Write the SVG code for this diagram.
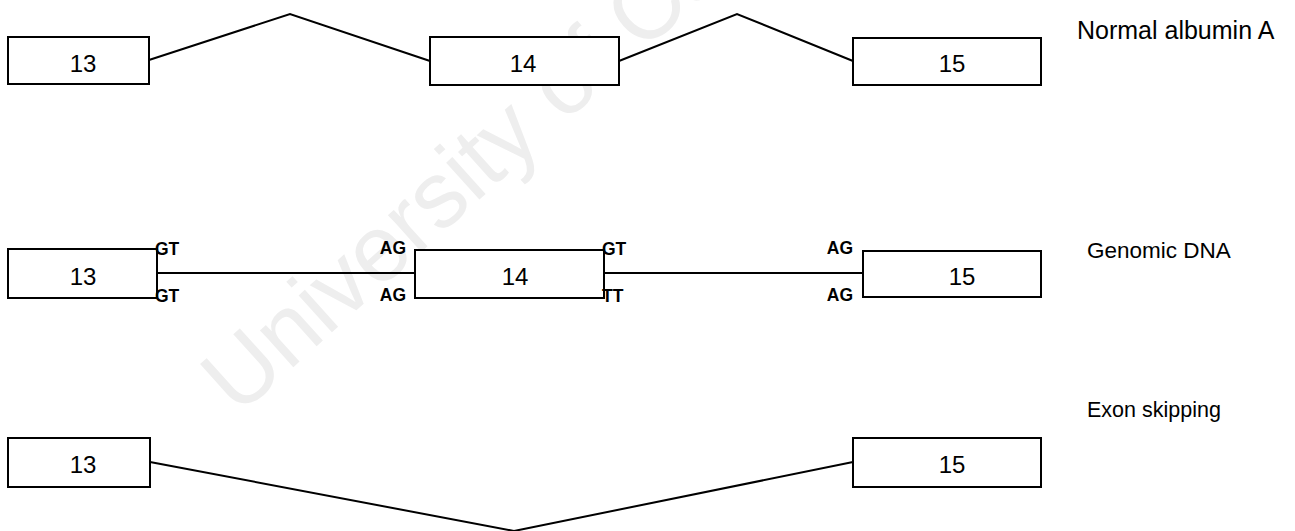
<svg xmlns="http://www.w3.org/2000/svg" width="1295" height="531" viewBox="0 0 1295 531">
<style>
.box{fill:#fff;stroke:#000;stroke-width:2}
.ln{fill:none;stroke:#000;stroke-width:2;stroke-linejoin:miter}
.num{font-family:"Liberation Sans",Arial,sans-serif;font-size:24px;fill:#000;text-anchor:middle}
.lab{font-family:"Liberation Sans",Arial,sans-serif;fill:#000}
.site{font-family:"Liberation Sans",Arial,sans-serif;font-weight:bold;font-size:17.5px;fill:#000}
.wm{font-family:"Liberation Sans",Arial,sans-serif;font-size:94px;fill:#eeeeee}
</style>
<rect width="1295" height="531" fill="#fff"/>
<text class="wm" transform="translate(238,417) rotate(-42)">University of Cape Town</text>

<g id="connectors">
<polyline class="ln" points="149,60 290,14 430,61"/>
<polyline class="ln" points="619,61 737,14 853,61"/>
<line class="ln" x1="157" y1="273" x2="415" y2="273"/>
<line class="ln" x1="604" y1="273" x2="863" y2="273"/>
<polyline class="ln" points="150,462 514,531 853,462"/>
</g>

<g id="row1-exon13"><rect class="box" x="8" y="37" width="141" height="47"/><text class="num" x="83" y="72">13</text></g>
<g id="row1-exon14"><rect class="box" x="430" y="37" width="189" height="48"/><text class="num" x="523" y="72">14</text></g>
<g id="row1-exon15"><rect class="box" x="853" y="38" width="188" height="47"/><text class="num" x="952" y="72">15</text></g>
<g id="label-normal"><text class="lab" x="1077" y="39" font-size="25">Normal albumin A</text></g>

<g id="row2-exon13"><rect class="box" x="8" y="249" width="149" height="49"/><text class="num" x="83" y="285">13</text></g>
<g id="row2-exon14"><rect class="box" x="415" y="250" width="189" height="48"/><text class="num" x="515" y="285">14</text></g>
<g id="row2-exon15"><rect class="box" x="863" y="251" width="178" height="46"/><text class="num" x="962" y="285">15</text></g>
<g id="sites">
<text class="site" x="155" y="255">GT</text>
<text class="site" x="155" y="302">GT</text>
<text class="site" x="406" y="254" text-anchor="end">AG</text>
<text class="site" x="406" y="301" text-anchor="end">AG</text>
<text class="site" x="602" y="255">GT</text>
<text class="site" x="602" y="302">TT</text>
<text class="site" x="853" y="254" text-anchor="end">AG</text>
<text class="site" x="853" y="301" text-anchor="end">AG</text>
</g>
<g id="label-genomic"><text class="lab" x="1087" y="258" font-size="22.5">Genomic DNA</text></g>

<g id="row3-exon13"><rect class="box" x="8" y="438" width="142" height="49"/><text class="num" x="83" y="473">13</text></g>
<g id="row3-exon15"><rect class="box" x="853" y="438" width="188" height="49"/><text class="num" x="952" y="473">15</text></g>
<g id="label-skipping"><text class="lab" x="1087" y="417" font-size="21.5">Exon skipping</text></g>
</svg>
